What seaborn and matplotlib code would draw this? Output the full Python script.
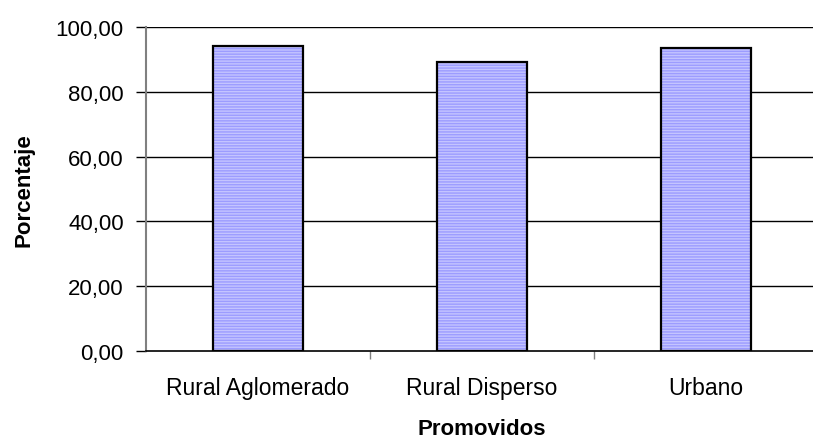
import matplotlib
matplotlib.use("Agg")
import matplotlib.pyplot as plt
import seaborn as sns
import pandas as pd

categories = ["Rural Aglomerado", "Rural Disperso", "Urbano"]
values = [94.2, 89.2, 93.6]
yticks = [0, 20, 40, 60, 80, 100]
ytick_labels = ["0,00", "20,00", "40,00", "60,00", "80,00", "100,00"]
xlabel = "Promovidos"
ylabel = "Porcentaje"

sns.set_style("white")
plt.rcParams["font.family"] = ["Liberation Sans", "DejaVu Sans"]
plt.rcParams["hatch.linewidth"] = 1.0
plt.rcParams["text.color"] = "black"
plt.rcParams["axes.labelcolor"] = "black"
plt.rcParams["xtick.labelcolor"] = "black"
plt.rcParams["ytick.labelcolor"] = "black"

df = pd.DataFrame({"cat": categories, "val": values})

fig = plt.figure(figsize=(8.13, 4.39), dpi=100)
ax = fig.add_axes([146 / 813, 87 / 439, 672 / 813, 324 / 439])

for y in yticks[1:]:
    ax.axhline(y, color="black", lw=1.0, zorder=0)

sns.barplot(data=df, x="cat", y="val", ax=ax, width=0.40,
            color="#C4C4FF", saturation=1, edgecolor="#9C9CFF", linewidth=0,
            hatch="------", zorder=2)
sns.barplot(data=df, x="cat", y="val", ax=ax, width=0.40,
            fill=False, edgecolor="black", linewidth=1.6, zorder=3)

ax.set_ylim(0, 100)
ax.set_xlim(-0.5, 2.5)
ax.set_yticks(yticks)
ax.set_yticklabels(ytick_labels, fontsize=16)
ax.set_xticks([0.5, 1.5], minor=True)
ax.set_xticks([0, 1, 2])
ax.set_xticklabels(categories, fontsize=16.5)
ax.tick_params(axis="x", which="major", length=0, pad=18, labelcolor="black")
ax.tick_params(axis="x", which="minor", length=6, width=1, color="#808080", direction="out")
ax.tick_params(axis="y", length=7, width=1, color="black", direction="out", pad=9, labelcolor="black")
ax.xaxis.set_ticks_position("bottom")
ax.yaxis.set_ticks_position("left")

ax.set_xlabel(xlabel, fontsize=16, fontweight="bold", color="black")
ax.set_ylabel(ylabel, fontsize=16, fontweight="bold", color="black")
ax.xaxis.set_label_coords(0.5, -(419 - 352) / 324)
ax.yaxis.set_label_coords((34 - 146) / 672, 0.5)

for s in ["top", "right"]:
    ax.spines[s].set_visible(False)
ax.spines["left"].set_color("#808080")
ax.spines["left"].set_linewidth(1.5)
ax.spines["bottom"].set_color("black")
ax.spines["bottom"].set_linewidth(1.2)

fig.savefig("out.png", dpi=100)
